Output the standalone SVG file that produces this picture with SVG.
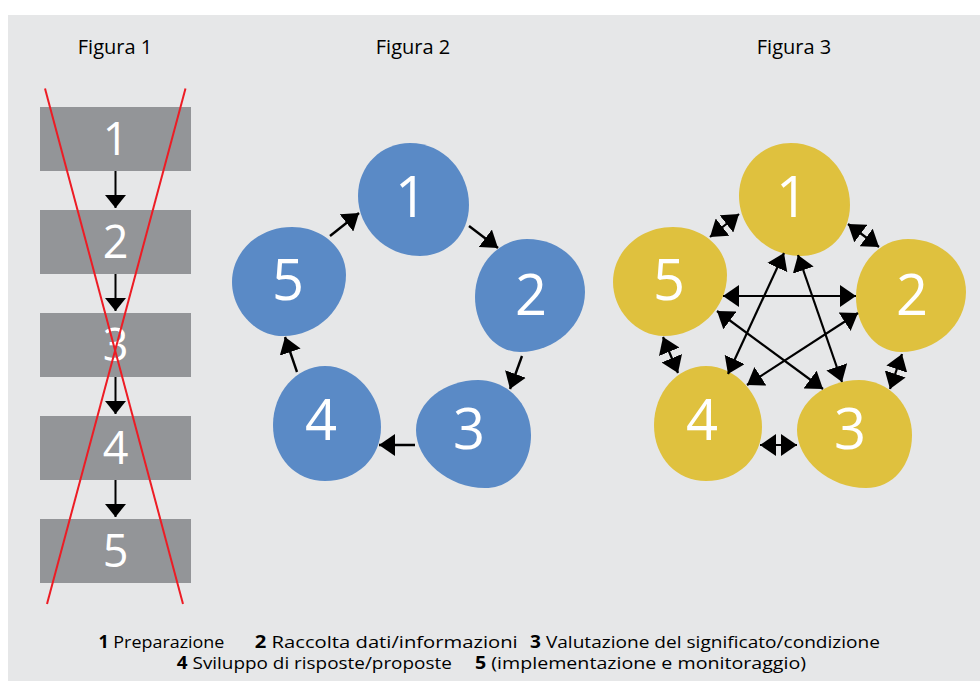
<svg xmlns="http://www.w3.org/2000/svg" width="980" height="681" viewBox="0 0 980 681">
<style>
.lbl{font-family:"Open Sans","Noto Sans","Liberation Sans",sans-serif;font-size:20px;fill:#000;text-anchor:middle}
.n1{font-family:"Open Sans","Noto Sans","Liberation Sans",sans-serif;font-size:45px;fill:#fff;text-anchor:middle}
.nb{font-family:"Open Sans","Noto Sans","Liberation Sans",sans-serif;font-size:56px;fill:#fff;text-anchor:middle}
.leg{font-family:"Open Sans","Noto Sans","Liberation Sans",sans-serif;font-size:17px;fill:#000}
.leg .b{font-weight:bold}
.box{fill:#939598}
.blue{fill:#5A8AC6}
.gold{fill:#DFC13E}
.cx{stroke:#ED1C24;stroke-width:2;fill:none}
.c1{stroke:#000;stroke-width:2;fill:none;marker-end:url(#h1)}
.c2{stroke:#000;stroke-width:2.4;fill:none;marker-end:url(#h2)}
.c3{stroke:#000;stroke-width:2.2;fill:none;marker-end:url(#h2);marker-start:url(#h2)}
</style>
<defs>
<marker id="h1" viewBox="0 -10.5 13 21" refX="13" refY="0" markerWidth="13" markerHeight="21" markerUnits="userSpaceOnUse" orient="auto-start-reverse"><path d="M0,-10.5 L13,0 L0,10.5 Z" fill="#000"/></marker>
<marker id="h2" viewBox="0 -11 16 22" refX="16" refY="0" markerWidth="16" markerHeight="22" markerUnits="userSpaceOnUse" orient="auto-start-reverse"><path d="M0,-11 L16,0 L0,11 Z" fill="#000"/></marker>
<path id="b1" d="M410,143 C444,143 469,172 469,205 C469,235 447,256 420,256 C385,256 358,228 358,196 C358,165 382,143 410,143 Z"/>
<path id="b2" d="M527,239 C560,239 585,262 585,292 C585,325 555,352 520,352 C493,352 475,325 475,297 C475,265 498,239 527,239 Z"/>
<path id="b3" d="M478,380 C508,380 531,405 531,435 C531,465 512,488 485,488 C448,488 416,460 416,430 C416,402 445,380 478,380 Z"/>
<path id="b4" d="M325,366 C355,366 381,395 381,427 C381,458 357,481 325,481 C296,481 273,458 273,425 C273,393 296,366 325,366 Z"/>
<path id="b5" d="M292,227 C322,227 346,248 346,275 C346,308 318,336 283,336 C255,336 232,310 232,282 C232,252 258,227 292,227 Z"/>
</defs>
<rect x="0" y="0" width="980" height="681" fill="#fff"/>
<rect x="8" y="15" width="972" height="666" fill="#E6E7E8"/>
<text class="lbl" x="115" y="54">Figura 1</text>
<text class="lbl" x="413" y="54">Figura 2</text>
<text class="lbl" x="794" y="54">Figura 3</text>
<g id="f1-n1"><rect class="box" x="40" y="107" width="151" height="64"/><text class="n1" x="115.5" y="155">1</text></g>
<g id="f1-n2"><rect class="box" x="40" y="210" width="151" height="64"/><text class="n1" x="115.5" y="258">2</text></g>
<g id="f1-n3"><rect class="box" x="40" y="313" width="151" height="64"/><text class="n1" x="115.5" y="361">3</text></g>
<g id="f1-n4"><rect class="box" x="40" y="416" width="151" height="64"/><text class="n1" x="115.5" y="464">4</text></g>
<g id="f1-n5"><rect class="box" x="40" y="519" width="151" height="64"/><text class="n1" x="115.5" y="567">5</text></g>
<g id="f2-n1"><use href="#b1" class="blue"/><text class="nb" x="411" y="217">1</text></g>
<g id="f2-n2"><use href="#b2" class="blue"/><text class="nb" x="531" y="315">2</text></g>
<g id="f2-n3"><use href="#b3" class="blue"/><text class="nb" x="469" y="449">3</text></g>
<g id="f2-n4"><use href="#b4" class="blue"/><text class="nb" x="321" y="440">4</text></g>
<g id="f2-n5"><use href="#b5" class="blue"/><text class="nb" x="288" y="300">5</text></g>
<g id="f3-n1" transform="translate(381,0)"><use href="#b1" class="gold"/><text class="nb" x="411" y="217">1</text></g>
<g id="f3-n2" transform="translate(381,0)"><use href="#b2" class="gold"/><text class="nb" x="531" y="315">2</text></g>
<g id="f3-n3" transform="translate(381,0)"><use href="#b3" class="gold"/><text class="nb" x="469" y="449">3</text></g>
<g id="f3-n4" transform="translate(381,0)"><use href="#b4" class="gold"/><text class="nb" x="321" y="440">4</text></g>
<g id="f3-n5" transform="translate(381,0)"><use href="#b5" class="gold"/><text class="nb" x="288" y="300">5</text></g>
<g id="connectors">
<line class="c1" x1="115.5" y1="171" x2="115.5" y2="208"/>
<line class="c1" x1="115.5" y1="274" x2="115.5" y2="311"/>
<line class="c1" x1="115.5" y1="377" x2="115.5" y2="414"/>
<line class="c1" x1="115.5" y1="480" x2="115.5" y2="517"/>
<line class="c2" x1="330" y1="236" x2="359" y2="213"/>
<line class="c2" x1="469" y1="226" x2="498" y2="248"/>
<line class="c2" x1="522" y1="356" x2="510" y2="389"/>
<line class="c2" x1="415" y1="445" x2="379" y2="445"/>
<line class="c2" x1="297" y1="372" x2="285" y2="337"/>
<line class="c3" x1="710" y1="237" x2="739" y2="214"/>
<line class="c3" x1="848" y1="224" x2="879" y2="247"/>
<line class="c3" x1="902" y1="354" x2="890" y2="389"/>
<line class="c3" x1="797" y1="445" x2="760" y2="445"/>
<line class="c3" x1="678" y1="373" x2="663" y2="337"/>
<line class="c3" x1="723" y1="296" x2="856" y2="296"/>
<line class="c3" x1="717" y1="311" x2="823" y2="389"/>
<line class="c3" x1="858" y1="313" x2="747" y2="385"/>
<line class="c3" x1="784" y1="253" x2="728" y2="374"/>
<line class="c3" x1="798" y1="255" x2="842" y2="382"/>
</g>
<g id="crossout">
<line class="cx" x1="45" y1="88.5" x2="183" y2="604"/>
<line class="cx" x1="185.5" y1="88.5" x2="47" y2="604"/>
</g>
<g id="legend">
<text class="leg" x="98.4" y="648" textLength="126" lengthAdjust="spacingAndGlyphs"><tspan class="b">1</tspan> Preparazione</text>
<text class="leg" x="254.7" y="648" textLength="263" lengthAdjust="spacingAndGlyphs"><tspan class="b">2</tspan> Raccolta dati/informazioni</text>
<text class="leg" x="530" y="648" textLength="350" lengthAdjust="spacingAndGlyphs"><tspan class="b">3</tspan> Valutazione del significato/condizione</text>
<text class="leg" x="176.8" y="669" textLength="275" lengthAdjust="spacingAndGlyphs"><tspan class="b">4</tspan> Sviluppo di risposte/proposte</text>
<text class="leg" x="475" y="669" textLength="331" lengthAdjust="spacingAndGlyphs"><tspan class="b">5</tspan> (implementazione e monitoraggio)</text>
</g>
</svg>
